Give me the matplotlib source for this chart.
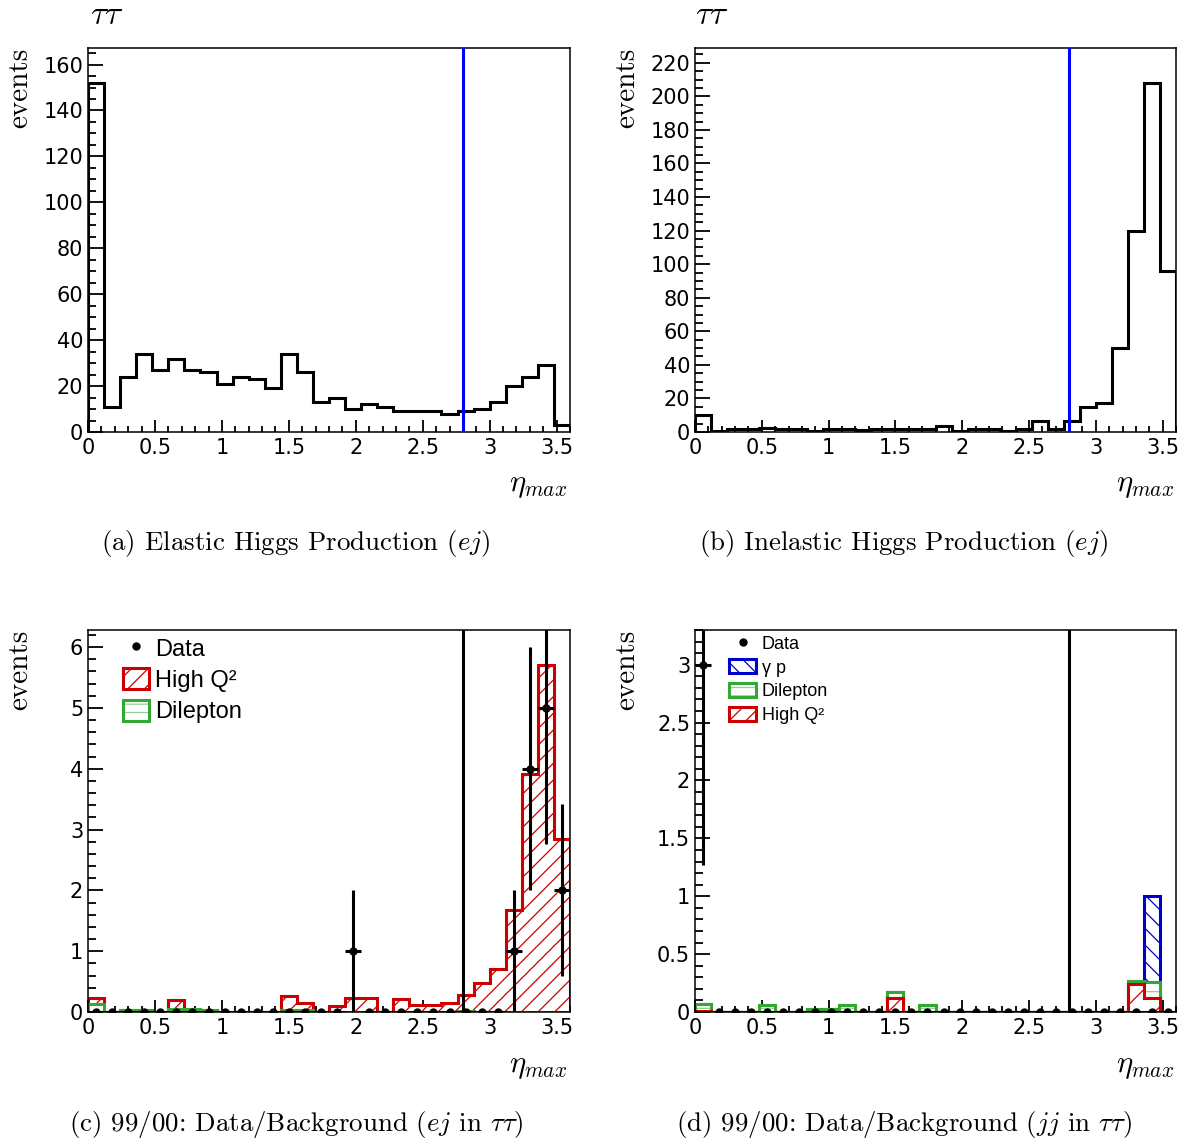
import numpy as np
import matplotlib
matplotlib.use('Agg')
import matplotlib.pyplot as plt
from matplotlib.ticker import MultipleLocator, FuncFormatter
from matplotlib.patches import Patch
from matplotlib.lines import Line2D
from matplotlib.legend_handler import HandlerTuple

plt.rcParams['font.family'] = 'Liberation Sans'
plt.rcParams['mathtext.fontset'] = 'cm'
plt.rcParams['hatch.linewidth'] = 0.9

# ---------------- data ----------------
edges = np.linspace(0.0, 3.6, 31)
eta_cut = 2.8

elastic = [152, 11, 24, 34, 27, 32, 27, 26, 21, 24, 23, 19, 34, 26, 13,
           15, 10, 12, 11, 9, 9, 9, 8, 9, 10, 13, 20, 24, 29, 3]
inelastic = [10, 0.5, 1.5, 1.5, 2.5, 1.5, 1.5, 0.5, 2, 1.5, 1, 1.5, 2, 2, 1.5,
             3.5, 0.5, 1.5, 2, 0.5, 2, 6.5, 2, 6.5, 15, 17, 50, 120, 208, 96]

c_data = [0, 0, 0, 0, 0, 0, 0, 0, 0, 0, 0, 0, 0, 0, 0,
          0, 1, 0, 0, 0, 0, 0, 0, 0, 0, 0, 1, 4, 5, 2]
c_highq2 = [0.10, 0, 0, 0, 0, 0.14, 0, 0, 0, 0, 0, 0, 0.23, 0.12, 0,
            0.10, 0.23, 0.23, 0, 0.22, 0.12, 0.12, 0.14, 0.26, 0.48, 0.71, 1.67, 3.92, 5.71, 2.84]
c_dilepton = [0.13, 0, 0.03, 0.03, 0, 0.05, 0.05, 0.03, 0, 0, 0, 0, 0.03, 0.03, 0,
              0, 0, 0, 0, 0, 0, 0, 0, 0.02, 0, 0, 0, 0, 0, 0]

d_data = [3, 0, 0, 0, 0, 0, 0, 0, 0, 0, 0, 0, 0, 0, 0,
          0, 0, 0, 0, 0, 0, 0, 0, 0, 0, 0, 0, 0, 0, 0]
d_highq2 = [0.01, 0, 0, 0, 0, 0, 0, 0, 0, 0, 0, 0, 0.12, 0, 0,
            0, 0, 0, 0, 0, 0, 0, 0, 0, 0, 0, 0, 0.24, 0.12, 0]
d_dilepton = [0.06, 0, 0, 0, 0.06, 0, 0, 0.03, 0.03, 0.06, 0, 0, 0.05, 0, 0.06,
              0, 0, 0, 0, 0, 0, 0, 0, 0, 0, 0, 0, 0.03, 0.14, 0]
d_gammap = [0, 0, 0, 0, 0, 0, 0, 0, 0, 0, 0, 0, 0, 0, 0,
            0, 0, 0, 0, 0, 0, 0, 0, 0, 0, 0, 0, 0, 0.74, 0]

captions = ['(a) Elastic Higgs Production ($ej$)',
            '(b) Inelastic Higgs Production ($ej$)',
            r'(c) 99/00: Data/Background ($ej$ in $\tau\tau$)',
            r'(d) 99/00: Data/Background ($jj$ in $\tau\tau$)']

# ---------------- style ----------------
RED = '#cc0000'
GREEN = '#33a833'
PALEGREEN = '#8fd18f'
BLUE = '#0000cc'
LW = 2.2

W, H = 1186, 1142
fig = plt.figure(figsize=(W / 100, H / 100), dpi=100)


def add_ax(l, t, r, b):
    return fig.add_axes([l / W, 1 - b / H, (r - l) / W, (b - t) / H])


fmt = FuncFormatter(lambda v, p: f'{v:g}')


def style(ax, ymaj, ymin, ymax):
    ax.set_xlim(0, 3.6)
    ax.set_ylim(0, ymax)
    ax.xaxis.set_major_locator(MultipleLocator(0.5))
    ax.xaxis.set_minor_locator(MultipleLocator(0.1))
    ax.yaxis.set_major_locator(MultipleLocator(ymaj))
    ax.yaxis.set_minor_locator(MultipleLocator(ymin))
    ax.xaxis.set_major_formatter(fmt)
    ax.yaxis.set_major_formatter(fmt)
    ax.tick_params(which='both', direction='in', top=False, right=False,
                   labelsize=15, width=1.3)
    ax.tick_params(axis='y', which='major', length=11, pad=3.5)
    ax.tick_params(axis='y', which='minor', length=5.8)
    ax.tick_params(axis='x', which='major', length=8.6, pad=4.5)
    ax.tick_params(axis='x', which='minor', length=4.3)
    for lab in ax.get_xticklabels() + ax.get_yticklabels():
        lab.set_family('DejaVu Sans')
    for s in ax.spines.values():
        s.set_linewidth(1.1)


def layer(ax, vals, outline, hatchcol, hatch):
    ax.stairs(vals, edges, fill=True, facecolor='white', edgecolor=hatchcol,
              hatch=hatch, linewidth=0, zorder=2)
    ax.stairs(vals, edges, fill=False, edgecolor=outline, linewidth=LW,
              baseline=0, zorder=2)


centers = 0.5 * (edges[:-1] + edges[1:])
halfw = 0.5 * (edges[1] - edges[0])

# (a)
axa = add_ax(88, 48, 570, 432)
style(axa, 20, 5, 1.1 * max(elastic))
axa.stairs(elastic, edges, color='black', linewidth=LW, baseline=0, zorder=2)
axa.axvline(eta_cut, color='#0000ff', linewidth=LW, zorder=3)

# (b)
axb = add_ax(695, 48, 1176, 432)
style(axb, 20, 5, 1.1 * max(inelastic))
axb.stairs(inelastic, edges, color='black', linewidth=LW, baseline=0, zorder=2)
axb.axvline(eta_cut, color='#0000ff', linewidth=LW, zorder=3)

# (c)
axc = add_ax(88, 630, 570, 1012)
c_dil = np.array(c_dilepton)
c_tot = c_dil + np.array(c_highq2)
style(axc, 1, 0.2, 1.1 * c_tot.max())
layer(axc, c_tot, RED, RED, '//')
layer(axc, c_dil, GREEN, PALEGREEN, '--')
axc.axvline(eta_cut, color='black', linewidth=LW, zorder=3)
cd = np.array(c_data, dtype=float)
axc.errorbar(centers, cd, yerr=np.sqrt(cd), xerr=halfw, fmt='o', color='black',
             ms=5, elinewidth=LW, capsize=0, zorder=4)

# (d)
axd = add_ax(695, 630, 1176, 1012)
d1 = np.array(d_highq2)
d2 = d1 + np.array(d_dilepton)
d3 = d2 + np.array(d_gammap)
dd = np.array(d_data, dtype=float)
style(axd, 0.5, 0.1, 1.1 * max(dd.max(), d3.max()))
layer(axd, d3, BLUE, BLUE, '\\\\')
layer(axd, d2, GREEN, PALEGREEN, '-')
layer(axd, d1, RED, RED, '/')
axd.axvline(eta_cut, color='black', linewidth=LW, zorder=3)
axd.errorbar(centers, dd, yerr=np.sqrt(dd), xerr=halfw, fmt='o', color='black',
             ms=5, elinewidth=LW, capsize=0, zorder=4)


# legends
def hatch_handle(outline, hatchcol, hatch):
    return (Patch(facecolor='white', edgecolor=hatchcol, hatch=hatch, linewidth=0),
            Patch(facecolor='none', edgecolor=outline, linewidth=LW))


data_h = Line2D([], [], marker='o', ls='none', color='black', ms=5)
hmap = {tuple: HandlerTuple(ndivide=1, pad=0)}
axc.legend([data_h, hatch_handle(RED, RED, '//'), hatch_handle(GREEN, PALEGREEN, '--')],
           ['Data', 'High Q²', 'Dilepton'], handler_map=hmap,
           loc='upper left', bbox_to_anchor=(0.0726, 0.982), frameon=False,
           fontsize=17, handlelength=1.1, handleheight=1.0, labelspacing=0.33,
           handletextpad=0.25, borderpad=0, borderaxespad=0)
axd.legend([data_h, hatch_handle(BLUE, BLUE, '\\\\'), hatch_handle(GREEN, PALEGREEN, '--'),
            hatch_handle(RED, RED, '//')],
           ['Data', 'γ p', 'Dilepton', 'High Q²'], handler_map=hmap,
           loc='upper left', bbox_to_anchor=(0.0707, 0.985), frameon=False,
           fontsize=13, handlelength=1.5, handleheight=0.8, labelspacing=0.36,
           handletextpad=0.3, borderpad=0, borderaxespad=0)

# figure texts
for xl, yt in [(20, 48), (627, 48), (20, 630), (627, 630)]:
    fig.text(xl / W, 1 - yt / H, 'events', rotation=90, ha='center', va='top',
             family='cmr10', fontsize=21)
for xr, yc in [(567, 485), (1174, 485), (567, 1066), (1174, 1066)]:
    fig.text(xr / W, 1 - yc / H, r'$\eta_{max}$', ha='right', va='center', fontsize=22)
for xl in [90, 695]:
    fig.text(xl / W, 1 - 16 / H, r'$\tau\tau$', ha='left', va='center', fontsize=24)
for (xc, yc), cap in zip([(296, 543), (904, 543), (296, 1125), (904, 1125)], captions):
    fig.text(xc / W, 1 - yc / H, cap, ha='center', va='center', family='cmr10', fontsize=19.4)

fig.savefig('out.png', dpi=100)
